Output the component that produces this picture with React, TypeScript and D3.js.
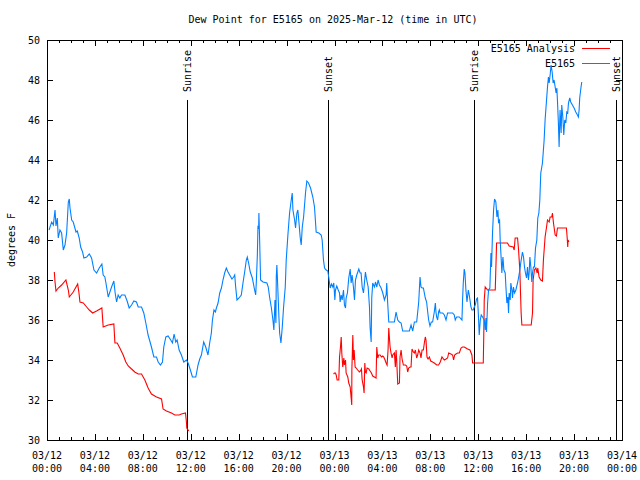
import React from "react";
import * as d3 from "d3";

// ---------- data ----------
const titleText = "Dew Point for E5165 on 2025-Mar-12 (time in UTC)";
const yLabel = "degrees F";
const xTickDates = ["03/12", "03/12", "03/12", "03/12", "03/12", "03/12", "03/13", "03/13", "03/13", "03/13", "03/13", "03/13", "03/14"];
const xTickTimes = ["00:00", "04:00", "08:00", "12:00", "16:00", "20:00", "00:00", "04:00", "08:00", "12:00", "16:00", "20:00", "00:00"];
const yTickValues = [30, 32, 34, 36, 38, 40, 42, 44, 46, 48, 50];

// hours since 03/12 00:00 UTC
const sunHours = [11.67, 23.48, 35.67, 47.47];
const sunLabels = ["Sunrise", "Sunset", "Sunrise", "Sunset"];

const seriesNames = ["E5165 Analysis", "E5165"];
const seriesColors = ["#ff0000", "#0080ff"];

// E5165 observations [hour, degF]
const obs: [number, number][] = [
  [0.17, 40.5], [0.39, 40.9], [0.53, 40.75], [0.67, 41.5], [0.75, 40.7], [0.86, 41.1], [0.94, 40.1], [1.08, 40.5],
  [1.22, 40.35], [1.36, 39.5], [1.5, 39.75], [1.64, 40.35], [1.78, 41.9], [1.86, 42.05], [1.92, 41.6], [2.06, 41.0],
  [2.19, 40.9], [2.42, 40.4], [2.53, 40.45], [2.69, 40.1], [2.81, 39.65], [2.97, 39.4], [3.08, 39.1], [3.31, 39.15],
  [3.53, 39.3], [3.72, 39.1], [3.92, 38.5], [4.14, 38.35], [4.36, 38.6], [4.58, 38.8], [4.69, 38.25], [4.83, 38.15],
  [4.92, 37.85], [5.11, 37.15], [5.25, 37.4], [5.39, 37.65], [5.58, 37.95], [5.69, 37.35], [5.81, 36.9], [5.94, 37.25],
  [6.08, 37.1], [6.22, 37.25], [6.5, 37.25], [6.69, 36.95], [6.86, 36.6], [7.06, 36.75], [7.25, 36.95], [7.47, 36.9],
  [7.61, 36.65], [7.89, 36.65], [8.08, 36.35], [8.25, 35.85], [8.44, 35.25], [8.72, 34.65], [8.92, 34.15], [9.14, 34.15],
  [9.28, 33.9], [9.47, 33.75], [9.64, 33.9], [9.75, 34.65], [9.92, 35.15], [10.11, 35.2], [10.33, 35.0], [10.47, 34.85],
  [10.61, 35.3], [10.75, 34.9], [10.86, 35.0], [11.03, 34.5], [11.22, 34.25], [11.42, 33.9], [11.64, 34.0], [11.78, 33.85],
  [11.97, 33.5], [12.14, 33.15], [12.42, 33.15], [12.61, 33.75], [12.75, 34.05], [12.89, 34.25], [13.08, 34.9], [13.25, 34.65],
  [13.44, 34.25], [13.58, 34.85], [13.72, 35.35], [13.81, 36.0], [13.94, 36.5], [14.06, 36.4], [14.14, 36.6], [14.28, 36.85],
  [14.42, 37.35], [14.56, 37.6], [14.69, 38.0], [14.83, 38.35], [14.97, 38.6], [15.11, 38.4], [15.25, 38.25], [15.44, 38.05],
  [15.58, 38.15], [15.67, 38.25], [15.75, 37.65], [15.86, 37.0], [16.03, 37.1], [16.22, 37.25], [16.36, 37.85], [16.5, 38.4],
  [16.64, 39.0], [16.72, 39.15], [16.83, 38.85], [16.97, 38.4], [17.14, 38.1], [17.33, 37.5], [17.42, 37.25], [17.47, 37.85],
  [17.56, 39.25], [17.61, 40.65], [17.67, 40.6], [17.69, 41.35], [17.75, 40.0], [17.83, 38.0], [18.03, 37.9], [18.36, 37.85],
  [18.47, 37.65], [18.58, 37.15], [18.72, 36.65], [18.86, 36.0], [18.94, 35.5], [19.03, 37.0], [19.11, 35.85], [19.14, 38.15],
  [19.19, 38.75], [19.25, 37.85], [19.36, 36.15], [19.42, 35.35], [19.53, 34.85], [19.64, 35.65], [19.75, 36.65], [19.89, 37.65],
  [19.97, 39.0], [20.11, 40.25], [20.25, 41.35], [20.39, 42.0], [20.47, 42.35], [20.53, 41.5], [20.67, 41.0], [20.75, 40.6],
  [20.86, 41.35], [20.94, 41.5], [21.03, 40.9], [21.14, 40.1], [21.22, 39.75], [21.31, 40.65], [21.42, 41.15], [21.58, 42.35],
  [21.69, 42.95], [21.83, 42.85], [22.0, 42.6], [22.19, 42.15], [22.33, 41.65], [22.42, 40.85], [22.47, 40.4], [22.69, 40.35],
  [22.89, 40.25], [22.97, 40.0], [23.08, 39.0], [23.17, 38.6], [23.31, 38.5], [23.44, 38.45], [23.53, 38.1], [23.64, 37.6],
  [23.75, 37.8], [23.86, 37.65], [23.94, 37.85], [24.03, 37.0], [24.08, 37.5], [24.19, 37.7], [24.31, 37.5], [24.42, 37.35],
  [24.47, 36.9], [24.56, 37.25], [24.64, 37.0], [24.75, 37.5], [24.83, 36.75], [24.92, 36.6], [24.97, 37.1], [25.08, 37.35],
  [25.19, 38.1], [25.31, 38.55], [25.39, 37.85], [25.47, 38.25], [25.58, 37.65], [25.67, 37.0], [25.75, 38.0], [25.86, 38.25],
  [26.03, 38.55], [26.14, 38.35], [26.22, 38.35], [26.31, 37.65], [26.42, 37.35], [26.5, 37.85], [26.58, 38.4], [26.69, 38.0],
  [26.81, 37.65], [26.92, 36.65], [26.97, 35.65], [27.06, 34.9], [27.11, 37.1], [27.19, 37.85], [27.33, 37.65], [27.42, 37.9],
  [27.53, 37.65], [27.64, 38.0], [27.75, 37.75], [27.89, 37.6], [28.03, 37.35], [28.17, 37.0], [28.31, 37.25], [28.36, 37.85],
  [28.44, 36.85], [28.53, 35.9], [28.72, 35.9], [29.0, 35.9], [29.14, 36.4], [29.28, 36.0], [29.42, 35.9], [29.56, 35.85],
  [29.69, 35.45], [29.97, 35.45], [30.25, 35.45], [30.39, 35.75], [30.53, 35.45], [30.67, 35.9], [30.86, 35.9], [31.03, 36.9],
  [31.14, 38.15], [31.22, 37.65], [31.31, 37.6], [31.42, 37.6], [31.58, 37.1], [31.69, 36.9], [31.78, 36.4], [31.86, 36.0],
  [31.97, 35.7], [32.08, 35.9], [32.19, 35.9], [32.33, 36.4], [32.42, 36.85], [32.47, 36.4], [32.53, 36.15], [32.61, 36.0],
  [32.69, 36.4], [32.75, 36.5], [32.81, 36.35], [33.03, 36.35], [33.17, 36.25], [33.31, 36.0], [33.44, 36.35], [33.86, 36.35],
  [34.0, 36.25], [34.08, 36.0], [34.19, 36.15], [34.42, 36.15], [34.64, 36.0], [34.69, 37.0], [34.75, 37.85], [34.83, 38.55],
  [34.89, 38.35], [34.97, 37.5], [35.06, 36.9], [35.17, 37.5], [35.25, 37.25], [35.39, 36.65], [35.47, 36.5], [35.58, 36.5],
  [35.67, 36.65], [35.75, 36.75], [35.86, 37.05], [35.94, 37.1], [36.03, 36.0], [36.08, 35.25], [36.17, 36.0], [36.25, 36.25],
  [36.36, 36.15], [36.5, 36.0], [36.58, 35.5], [36.64, 36.1], [36.69, 35.4], [36.78, 36.85], [36.86, 37.5], [36.97, 37.6],
  [37.06, 39.35], [37.11, 38.65], [37.19, 40.35], [37.28, 41.5], [37.36, 42.05], [37.47, 41.9], [37.56, 41.15], [37.64, 41.5],
  [37.69, 40.9], [37.78, 41.0], [37.83, 40.0], [37.92, 39.0], [37.97, 38.35], [38.06, 39.15], [38.14, 38.5], [38.25, 38.35],
  [38.31, 37.65], [38.39, 36.85], [38.47, 37.15], [38.53, 36.35], [38.58, 37.35], [38.67, 37.0], [38.72, 37.85], [38.81, 37.5],
  [38.86, 37.1], [38.94, 37.65], [39.03, 37.35], [39.14, 37.5], [39.28, 37.85], [39.36, 38.1], [39.47, 38.5], [39.56, 38.9],
  [39.69, 39.4], [39.78, 39.15], [39.86, 38.65], [39.94, 38.35], [40.03, 38.1], [40.11, 38.65], [40.19, 38.0], [40.25, 38.35],
  [40.31, 39.15], [40.39, 38.65], [40.47, 37.9], [40.53, 38.35], [40.61, 38.65], [40.69, 38.65], [40.78, 39.6], [40.89, 40.0],
  [40.97, 41.1], [41.06, 41.35], [41.14, 42.0], [41.22, 43.35], [41.36, 43.85], [41.5, 45.0], [41.58, 46.0], [41.69, 46.9],
  [41.78, 47.65], [41.86, 48.15], [41.92, 47.85], [42.0, 48.25], [42.08, 48.75], [42.17, 48.4], [42.25, 47.85], [42.33, 48.0],
  [42.42, 47.65], [42.5, 47.35], [42.56, 47.6], [42.61, 47.0], [42.69, 45.85], [42.75, 44.65], [42.83, 46.5], [42.92, 45.35],
  [42.97, 46.75], [43.06, 46.15], [43.14, 45.25], [43.22, 46.0], [43.31, 45.85], [43.39, 46.4], [43.47, 46.35], [43.53, 46.85],
  [43.64, 47.1], [43.72, 46.9], [43.86, 46.75], [44.0, 46.6], [44.14, 46.4], [44.28, 46.25], [44.36, 46.15], [44.42, 46.5],
  [44.47, 47.1], [44.58, 47.65], [44.64, 47.9],
];

// E5165 Analysis, first segment [hour, degF]
const analysisA: [number, number][] = [
  [0.61, 38.4], [0.67, 37.9], [0.75, 37.45], [0.94, 37.6], [1.22, 37.75], [1.58, 38.0], [1.78, 37.5], [1.86, 37.15],
  [2.19, 37.4], [2.56, 37.8], [2.67, 37.35], [2.75, 36.9], [3.03, 36.85], [3.31, 36.65], [3.53, 36.5], [3.81, 36.35],
  [4.14, 36.45], [4.58, 36.6], [4.69, 35.65], [5.11, 35.75], [5.58, 35.8], [5.67, 34.85], [5.86, 34.85], [6.08, 34.6],
  [6.36, 34.25], [6.58, 33.9], [6.78, 33.7], [7.06, 33.55], [7.33, 33.4], [7.61, 33.3], [7.89, 33.3], [8.17, 33.0],
  [8.44, 32.6], [8.72, 32.3], [9.14, 32.15], [9.56, 32.05], [9.69, 31.55], [9.97, 31.45], [10.39, 31.35], [10.67, 31.25],
  [11.03, 31.25], [11.22, 31.3], [11.56, 31.35], [11.64, 30.9], [11.67, 30.6], [11.83, 30.45],
];

// E5165 Analysis, second segment [hour, degF]
const analysisB: [number, number][] = [
  [23.92, 33.3], [24.0, 33.35], [24.08, 33.35], [24.14, 33.25], [24.22, 33.0], [24.36, 33.0], [24.42, 34.15], [24.5, 34.65],
  [24.56, 35.15], [24.61, 34.35], [24.69, 33.65], [24.78, 34.1], [24.83, 33.75], [24.92, 34.0], [24.97, 33.35], [25.11, 33.15],
  [25.19, 32.85], [25.31, 32.65], [25.39, 32.1], [25.44, 31.75], [25.45, 33.5], [25.53, 35.25], [25.58, 34.0], [25.64, 34.5],
  [25.72, 33.65], [25.81, 33.6], [25.94, 33.5], [26.08, 33.4], [26.17, 33.45], [26.25, 33.55], [26.31, 33.0], [26.42, 32.65],
  [26.47, 32.35], [26.53, 33.85], [26.58, 33.4], [26.64, 33.35], [26.72, 33.6], [26.86, 33.55], [26.97, 33.45], [27.08, 33.35],
  [27.19, 33.2], [27.33, 33.15], [27.47, 33.1], [27.53, 34.65], [27.61, 34.1], [27.69, 34.25], [27.81, 34.25], [27.92, 34.15],
  [28.03, 34.2], [28.11, 34.15], [28.22, 34.0], [28.31, 33.85], [28.39, 33.75], [28.47, 34.5], [28.53, 35.6], [28.58, 35.15],
  [28.64, 34.65], [28.72, 34.35], [28.81, 34.1], [28.86, 34.25], [29.0, 34.35], [29.08, 33.65], [29.14, 34.5], [29.19, 34.0],
  [29.28, 32.8], [29.42, 32.85], [29.47, 34.15], [29.56, 34.5], [29.64, 34.05], [29.75, 33.75], [29.92, 33.75], [30.03, 33.7],
  [30.11, 33.4], [30.19, 33.6], [30.31, 33.65], [30.39, 33.65], [30.47, 34.55], [30.58, 34.4], [30.67, 34.35], [30.75, 34.5],
  [30.86, 34.1], [30.94, 34.25], [31.03, 34.5], [31.14, 34.35], [31.22, 34.1], [31.31, 34.5], [31.42, 34.5], [31.5, 34.85],
  [31.58, 35.15], [31.64, 35.0], [31.72, 34.15], [31.81, 34.05], [31.92, 34.15], [32.03, 33.95], [32.19, 33.9], [32.33, 33.85],
  [32.53, 33.75], [32.69, 33.75], [32.83, 33.9], [32.97, 34.15], [33.17, 34.0], [33.31, 34.05], [33.44, 34.1], [33.53, 34.35],
  [33.72, 34.3], [33.86, 34.25], [33.94, 34.0], [34.03, 34.25], [34.14, 34.3], [34.28, 34.35], [34.42, 34.35], [34.56, 34.6],
  [34.69, 34.65], [34.83, 34.65], [34.97, 34.6], [35.11, 34.55], [35.31, 34.5], [35.47, 34.25], [35.53, 33.85], [36.42, 33.85],
  [36.46, 35.2], [36.5, 37.0], [36.58, 37.65], [36.78, 37.5], [37.42, 37.5], [37.53, 39.85], [38.44, 39.85], [38.58, 39.7],
  [38.92, 39.65], [39.0, 39.5], [39.08, 40.1], [39.28, 40.1], [39.36, 39.55], [39.47, 38.5], [39.58, 36.35], [39.64, 35.75],
  [40.42, 35.75], [40.53, 36.35], [40.58, 38.0], [40.69, 38.5], [40.81, 38.6], [40.92, 38.35], [40.97, 38.6], [41.08, 38.15],
  [41.22, 38.0], [41.36, 37.95], [41.44, 39.0], [41.58, 40.15], [41.69, 40.6], [41.78, 41.0], [41.92, 40.9], [42.0, 41.15],
  [42.14, 41.15], [42.19, 41.35], [42.28, 40.85], [42.42, 40.25], [42.53, 40.2], [42.61, 40.6], [43.36, 40.6], [43.42, 40.15],
  [43.47, 39.65], [43.5, 40.0], [43.56, 39.9],
];

// ---------- chart ----------
const W = 640;
const H = 480;
const L = 47;
const R = 622;
const T = 40;
const B = 440;
const FONT = "'DejaVu Sans Mono', monospace";

export default function App() {
  const x = d3.scaleLinear().domain([0, 48]).range([L, R]);
  const y = d3.scaleLinear().domain([30, 50]).range([B, T]);
  const line = d3
    .line<[number, number]>()
    .x((d) => x(d[0]))
    .y((d) => y(d[1]));

  const majorX = d3.range(0, 49, 4);
  const minorX = d3.range(0, 49, 1).filter((h) => h % 4 !== 0);
  const px = (v: number) => Math.round(v) + 0.5;

  return (
    <svg
      width={W}
      height={H}
      viewBox={`0 0 ${W} ${H}`}
      style={{ position: "absolute", left: 0, top: 0, background: "#fff" }}
      fontFamily={FONT}
      fontSize={10}
    >
      <rect x={0} y={0} width={W} height={H} fill="#fff" />
      <text x={333} y={19} textAnchor="middle" dominantBaseline="central" fill="#000">
        {titleText}
      </text>

      {/* ticks */}
      <g stroke="#000" strokeWidth={1} shapeRendering="crispEdges">
        {majorX.map((h) => (
          <g key={"mx" + h}>
            <line x1={px(x(h))} x2={px(x(h))} y1={B} y2={B - 6} />
            <line x1={px(x(h))} x2={px(x(h))} y1={T} y2={T + 6} />
          </g>
        ))}
        {minorX.map((h) => (
          <g key={"nx" + h}>
            <line x1={px(x(h))} x2={px(x(h))} y1={B} y2={B - 3} />
            <line x1={px(x(h))} x2={px(x(h))} y1={T} y2={T + 3} />
          </g>
        ))}
        {yTickValues.map((v) => (
          <g key={"y" + v}>
            <line x1={L} x2={L + 6} y1={px(y(v))} y2={px(y(v))} />
            <line x1={R} x2={R - 6} y1={px(y(v))} y2={px(y(v))} />
          </g>
        ))}
      </g>

      {/* y labels */}
      {yTickValues.map((v) => (
        <text key={"yl" + v} x={40} y={y(v)} textAnchor="end" dominantBaseline="central" fill="#000">
          {v}
        </text>
      ))}
      <text
        transform={`translate(11,${(T + B) / 2}) rotate(-90)`}
        textAnchor="middle"
        dominantBaseline="central"
        fill="#000"
      >
        {yLabel}
      </text>

      {/* x labels */}
      {majorX.map((h, i) => (
        <g key={"xl" + h}>
          <text x={x(h)} y={455} textAnchor="middle" dominantBaseline="central" fill="#000">
            {xTickDates[i]}
          </text>
          <text x={x(h)} y={468} textAnchor="middle" dominantBaseline="central" fill="#000">
            {xTickTimes[i]}
          </text>
        </g>
      ))}

      {/* sunrise / sunset */}
      {sunHours.map((h, i) => (
        <g key={"sun" + i}>
          <line
            x1={px(x(h))}
            x2={px(x(h))}
            y1={100}
            y2={B}
            stroke="#000"
            strokeWidth={1}
            shapeRendering="crispEdges"
          />
          <text
            transform={`translate(${px(x(h))},92) rotate(-90)`}
            textAnchor="start"
            dominantBaseline="central"
            fill="#000"
          >
            {sunLabels[i]}
          </text>
        </g>
      ))}

      {/* data */}
      <path d={line(analysisA) || ""} fill="none" stroke={seriesColors[0]} strokeWidth={1.1} />
      <path d={line(analysisB) || ""} fill="none" stroke={seriesColors[0]} strokeWidth={1.1} />
      <path d={line(obs) || ""} fill="none" stroke={seriesColors[1]} strokeWidth={1.1} />

      {/* legend */}
      {seriesNames.map((n, i) => (
        <g key={"lg" + i}>
          <text x={575} y={48 + i * 15} textAnchor="end" dominantBaseline="central" fill="#000">
            {n}
          </text>
          <line
            x1={582}
            x2={610}
            y1={48.5 + i * 15}
            y2={48.5 + i * 15}
            stroke={seriesColors[i]}
            strokeWidth={1}
            shapeRendering="crispEdges"
          />
        </g>
      ))}

      {/* frame */}
      <rect
        x={L + 0.5}
        y={T + 0.5}
        width={R - L}
        height={B - T}
        fill="none"
        stroke="#000"
        strokeWidth={1}
        shapeRendering="crispEdges"
      />
    </svg>
  );
}
